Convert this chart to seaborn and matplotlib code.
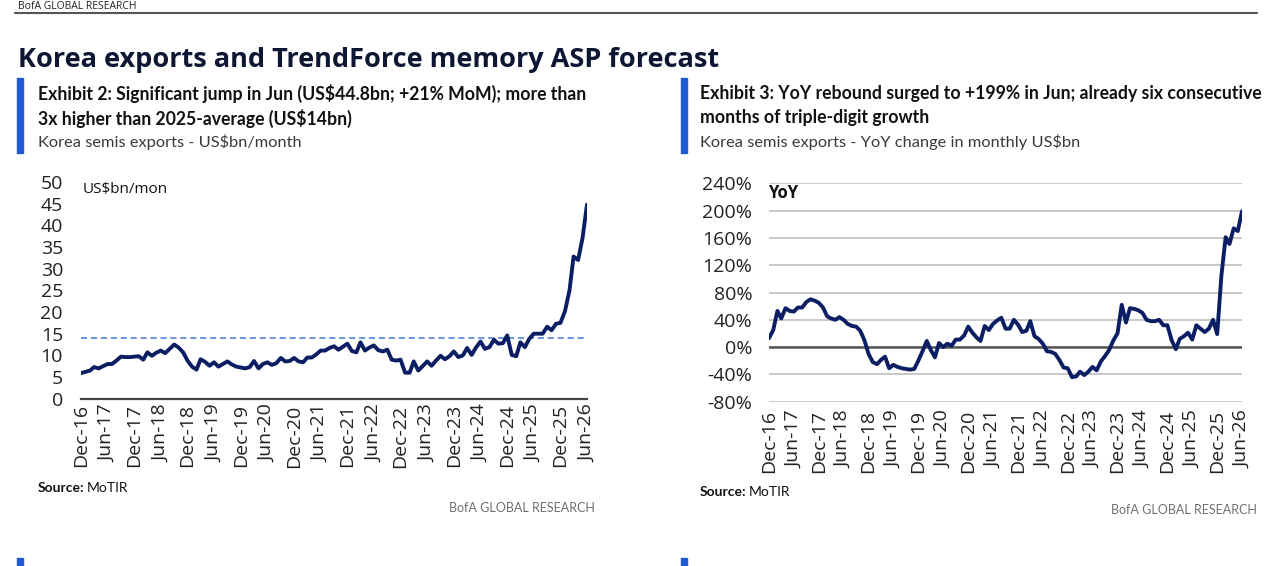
import pandas as pd
import matplotlib
matplotlib.use("Agg")
import matplotlib.pyplot as plt
import seaborn as sns
from matplotlib.patches import Rectangle

# monthly data, Dec-16 .. Jun-26
start_month = "2016-12-01"
exports_bn = [
    5.9, 6.2, 6.5, 7.3, 7.0, 7.5, 8.0, 8.0, 8.8, 9.7, 9.6, 9.6, 9.7, 9.8, 9.0, 10.7,
    9.9, 10.6, 11.1, 10.5, 11.5, 12.5, 11.8, 10.7, 8.8, 7.4, 6.7, 9.1, 8.5, 7.6, 8.4,
    7.4, 8.0, 8.6, 7.9, 7.4, 7.2, 7.0, 7.3, 8.7, 7.0, 8.0, 8.4, 7.8, 8.2, 9.4, 8.6,
    8.7, 9.4, 8.6, 8.4, 9.5, 9.5, 10.2, 11.1, 11.1, 11.7, 12.1, 11.3, 12.0, 12.7, 11.0,
    10.7, 13.0, 11.1, 11.8, 12.3, 11.2, 10.9, 11.3, 9.0, 8.8, 9.0, 6.0, 6.0, 8.6, 6.5,
    7.5, 8.6, 7.6, 8.8, 9.9, 9.1, 9.8, 10.9, 9.6, 10.0, 11.7, 10.1, 11.8, 13.2, 11.5,
    11.9, 13.6, 12.7, 12.8, 14.6, 10.1, 9.8, 13.0, 11.9, 13.8, 15.0, 15.0, 15.0, 16.6,
    15.8, 17.3, 17.5, 20.2, 25.0, 32.8, 32.0, 37.0, 44.8,
]
yoy_pct = [
    13, 25, 53, 42, 57, 53, 52, 58, 58, 66, 70, 68, 65, 58, 45, 42, 40, 44, 40, 34,
    31, 30, 24, 10, -10, -22, -25, -19, -14, -31, -26, -29, -31, -32, -33, -32, -20,
    -6, 9, -4, -15, 6, 0, 5, 2, 11, 11, 17, 30, 21, 14, 9, 31, 25, 34, 39, 43, 27,
    27, 40, 33, 22, 24, 38, 16, 12, 5, -6, -7, -10, -19, -30, -31, -44, -43, -36,
    -41, -36, -29, -34, -21, -13, -4, 10, 20, 62, 36, 57, 56, 54, 50, 40, 38, 38,
    40, 32, 32, 10, -3, 12, 16, 21, 11, 32, 27, 22, 27, 40, 19, 105, 161, 151, 174,
    170, 199,
]
avg_2025_bn = 14.0
export_ticks = [0, 5, 10, 15, 20, 25, 30, 35, 40, 45, 50]
yoy_ticks = [-80, -40, 0, 40, 80, 120, 160, 200, 240]

W, H = 1280, 566
NAVY = "#0b1e63"
BLUE = "#1f5bd1"
TXT = "#111111"
GREY = "#555555"
NARROW = ["Lato", "DejaVu Sans"]


def fx(x):
    return x / W


def fy(y):
    return 1 - y / H


def box(x0, x1, y_top, y_bot):
    return [fx(x0), fy(y_bot), (x1 - x0) / W, (y_bot - y_top) / H]


def style_axis(ax, months):
    ticks = months[::6]
    ax.set_xticks(ticks)
    ax.set_xticklabels([d.strftime("%b-%y") for d in ticks], rotation=90)
    ax.set_xlim(months[0], months[-1])
    ax.set_xlabel("")
    ax.set_ylabel("")
    ax.tick_params(length=0, labelsize=14, labelcolor="#222222")


def header(fig, x_bar, x_text, line1, line2, sub):
    fig.patches.append(Rectangle((fx(x_bar), fy(153)), 6 / W, 75 / H,
                                 transform=fig.transFigure, color=BLUE))
    fig.text(fx(x_text), fy(93), line1, fontsize=12.7, fontweight="bold",
             family=NARROW, color=TXT, va="center")
    fig.text(fx(x_text), fy(118), line2, fontsize=12.7, fontweight="bold",
             family=NARROW, color=TXT, va="center")
    fig.text(fx(x_text), fy(142), sub, fontsize=11.8, family=NARROW,
             color="#3a3a3a", va="center")


def footer(fig, x_src, y_src, x_right, y_right):
    fig.text(fx(x_src), fy(y_src), "Source:", fontsize=10, fontweight="bold",
             family=NARROW, color=TXT, va="center")
    fig.text(fx(x_src + 49), fy(y_src), "MoTIR", fontsize=10, family=NARROW,
             color=TXT, va="center")
    fig.text(fx(x_right), fy(y_right), "BofA GLOBAL RESEARCH", fontsize=9,
             family=NARROW, color="#707070", va="center", ha="right")


if __name__ == "__main__":
    sns.set_style("white")
    plt.rcParams["font.family"] = ["Open Sans", "DejaVu Sans"]
    plt.rcParams["text.parse_math"] = False

    months = pd.date_range(start_month, periods=len(exports_bn), freq="MS")
    df = pd.DataFrame({"month": months, "exports": exports_bn, "yoy": yoy_pct})

    fig = plt.figure(figsize=(W / 100, H / 100), dpi=100)

    # page header
    fig.text(fx(18), fy(1), "BofA GLOBAL RESEARCH", fontsize=7.5, color="#222222",
             va="top")
    fig.add_artist(plt.Line2D([fx(15), fx(1257)], [fy(13), fy(13)], color=GREY,
                              lw=1.5))
    fig.text(fx(18), fy(60), "Korea exports and TrendForce memory ASP forecast",
             fontsize=19.5, fontweight="bold", color="#0d1733", va="center")

    header(fig, 17, 38,
           "Exhibit 2: Significant jump in Jun (US$44.8bn; +21% MoM); more than",
           "3x higher than 2025-average (US$14bn)",
           "Korea semis exports - US$bn/month")
    header(fig, 681, 700,
           "Exhibit 3: YoY rebound surged to +199% in Jun; already six consecutive",
           "months of triple-digit growth",
           "Korea semis exports - YoY change in monthly US$bn")

    # left: exports level
    ax1 = fig.add_axes(box(81, 587, 182, 398.7))
    ax1.axhline(avg_2025_bn, color="#3d7ad6", lw=1.1, ls=(0, (4, 2.5)))
    sns.lineplot(data=df, x="month", y="exports", ax=ax1, color=NAVY, lw=2.8)
    ax1.set_ylim(0, 50)
    ax1.set_yticks(export_ticks)
    style_axis(ax1, months)
    ax1.tick_params(axis="y", pad=13)
    ax1.tick_params(axis="x", pad=4)
    for s in ["top", "right", "left"]:
        ax1.spines[s].set_visible(False)
    ax1.spines["bottom"].set_color("#444444")
    ax1.spines["bottom"].set_linewidth(1.6)
    ax1.text(fx(83), fy(190), "US$bn/mon", transform=fig.transFigure,
             fontsize=11, color=TXT, va="center")

    # right: YoY change
    ax2 = fig.add_axes(box(769, 1242, 183.3, 401.7))
    sns.lineplot(data=df, x="month", y="yoy", ax=ax2, color=NAVY, lw=2.8,
                 zorder=3)
    ax2.set_ylim(-80, 240)
    ax2.set_yticks(yoy_ticks)
    ax2.set_yticklabels([f"{v}%" for v in yoy_ticks])
    style_axis(ax2, months)
    ax2.tick_params(axis="y", pad=12)
    ax2.tick_params(axis="x", pad=6)
    ax2.grid(axis="y", color="#c4c4c4", lw=1.3)
    ax2.grid(axis="x", visible=False)
    ax2.axhline(0, color="#555555", lw=1.8, zorder=2)
    sns.despine(ax=ax2, left=True, bottom=True)
    ax2.text(fx(768), fy(193), "YoY", transform=fig.transFigure, fontsize=12,
             fontweight="bold", color=TXT, va="center")

    footer(fig, 38, 488, 595, 508)
    footer(fig, 700, 492, 1257, 510)

    # start of the next exhibits, cut at the bottom
    for x in (17, 681):
        fig.patches.append(Rectangle((fx(x), 0), 6 / W, 8 / H,
                                     transform=fig.transFigure, color=BLUE))

    plt.savefig("out.png", dpi=100)
